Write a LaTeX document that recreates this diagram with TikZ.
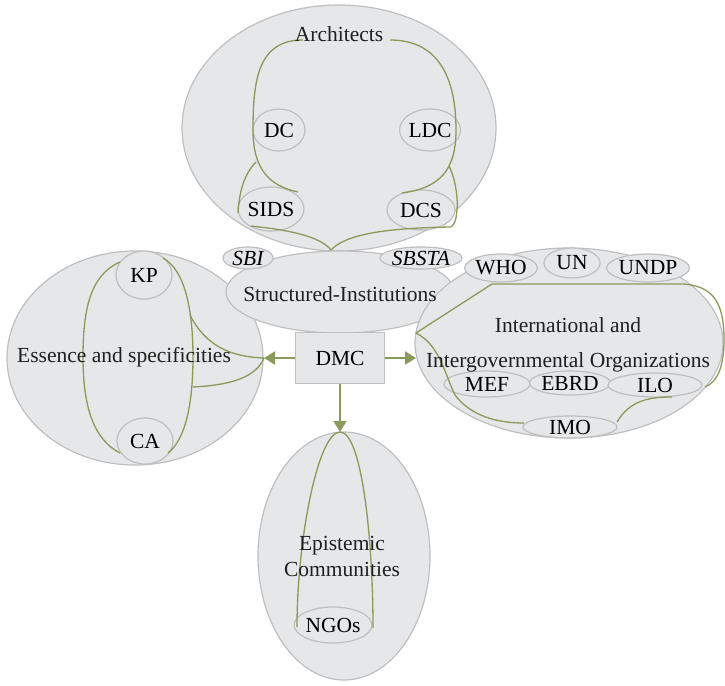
\documentclass[tikz,border=0pt]{standalone}
\usepackage{fontspec}
\setmainfont{Liberation Serif}
\usetikzlibrary{shapes.geometric,arrows.meta}
\definecolor{blobfill}{HTML}{E6E7E9}
\definecolor{blobline}{HTML}{BFBFBF}
\definecolor{olive}{HTML}{8A9A5B}
\begin{document}
\begin{tikzpicture}[x=1pt,y=-1pt,
  blob/.style={ellipse,draw=blobline,fill=blobfill,line width=1.2pt,inner sep=0pt},
  tag/.style={ellipse,draw=blobline,fill=blobfill,line width=1.2pt,inner sep=0pt,
              font=\fontsize{21.5}{26}\selectfont},
  txt/.style={font=\fontsize{21.5}{26}\selectfont,text=black!88,inner sep=0pt,align=center},
  link/.style={draw=olive,line width=1.3pt},
  flow/.style={draw=olive,line width=2pt,-{Triangle[length=11pt,width=13pt]}}]
\useasboundingbox (0,0) rectangle (725,685);

% large groups
\node[blob,minimum width=314pt,minimum height=246pt] (arch) at (339,128) {};
\node[blob,minimum width=256pt,minimum height=214pt] (ess) at (135,358) {};
\node[blob,minimum width=228pt,minimum height=82pt] (inst) at (340,292) {};
\node[blob,minimum width=308pt,minimum height=190pt] (intl) at (569,343) {};
\node[blob,minimum width=172pt,minimum height=248pt] (epi) at (344,556) {};

% members
\node[tag,minimum width=50pt,minimum height=22pt] (sbi) at (248,258) {\itshape SBI};
\node[tag,minimum width=78pt,minimum height=22pt] (sbsta) at (421,258) {\itshape SBSTA};
\node[tag,minimum width=52pt,minimum height=42pt] (dc) at (279,130) {DC};
\node[tag,minimum width=54pt,minimum height=42pt] (ldc) at (430,130) {LDC};
\node[tag,minimum width=66pt,minimum height=44pt] (sids) at (271,209) {SIDS};
\node[tag,minimum width=68pt,minimum height=40pt] (dcs) at (421,210) {DCS};
\node[tag,minimum width=56pt,minimum height=48pt] (kp) at (144,275) {KP};
\node[tag,minimum width=56pt,minimum height=46pt] (ca) at (145,441) {CA};
\node[tag,minimum width=72pt,minimum height=28pt] (who) at (501,268) {WHO};
\node[tag,minimum width=56pt,minimum height=30pt] (un) at (572,263) {UN};
\node[tag,minimum width=80pt,minimum height=28pt] (undp) at (648,268) {UNDP};
\node[tag,minimum width=86pt,minimum height=26pt] (mef) at (487,384) {MEF};
\node[tag,minimum width=74pt,minimum height=24pt] (ebrd) at (570,383) {EBRD};
\node[tag,minimum width=94pt,minimum height=24pt] (ilo) at (655,385) {ILO};
\node[tag,minimum width=94pt,minimum height=22pt] (imo) at (570,427) {IMO};
\node[tag,minimum width=72pt,minimum height=36pt] (ngo) at (333,625) {NGOs};

% central box
\node[draw=blobline,fill=blobfill,line width=1.2pt,minimum width=89pt,minimum height=51pt,
      font=\fontsize{21.5}{26}\selectfont] (dmc) at (340,358) {DMC};

% links inside the Architects group
\coordinate (archL) at (303,40);
\coordinate (archR) at (390,40);
\coordinate (archJ) at (331,250);
\path[link] (archL) .. controls (258,40) and (253,80) .. (253,130)
  .. controls (253,170) and (270,186) .. (298,192);
\path[link] (256,162) .. controls (243,175) and (239,195) .. (238,213);
\path[link] (251,226) .. controls (288,230) and (320,236) .. (archJ);
\path[link] (archR) .. controls (440,40) and (456,80) .. (456,130)
  .. controls (456,170) and (440,188) .. (402,193);
\path[link] (449,166) .. controls (456,180) and (458,200) .. (457,210)
  .. controls (456,220) and (455,224) .. (451,227);
\path[link] (451,227) .. controls (382,228) and (345,235) .. (archJ);

% links inside the Essence group
\coordinate (essJ) at (264,358);
\path[link] (120,262) .. controls (90,275) and (83,310) .. (83,357)
  .. controls (83,410) and (95,440) .. (120,453);
\path[link] (163,258) .. controls (185,270) and (193,310) .. (193,357)
  .. controls (193,405) and (185,440) .. (168,453);
\path[link] (190,315) .. controls (205,345) and (230,357) .. (essJ);
\path[link] (193,387) .. controls (232,385) and (256,377) .. (essJ);

% links inside the International group
\coordinate (intJ) at (416,333);
\path[link] (intJ) -- (492,284) -- (683,284)
  .. controls (715,286) and (724,305) .. (724,340)
  .. controls (724,365) and (718,382) .. (705,387);
\path[link] (intJ) .. controls (440,345) and (445,375) .. (455,395)
  .. controls (470,415) and (495,423) .. (524,423);
\path[link] (617,422) .. controls (630,400) and (650,397) .. (672,397);

% links inside the Epistemic group
\coordinate (epiJ) at (340,432);
\path[link] (epiJ) .. controls (318,432) and (297,540) .. (297,627);
\path[link] (epiJ) .. controls (362,432) and (373,540) .. (373,628);

% arrows out of DMC
\draw[flow] (dmc.west) -- (essJ);
\draw[flow] (dmc.east) -- (intJ |- dmc.east);
\draw[flow] (dmc.south) -- (epiJ);

% group titles
\node[txt] (archlbl) at (339,34) {Architects};
\node[txt] (instlbl) at (340,294) {Structured-Institutions};
\node[txt] (esslbl) at (124,357) {Essence and specificities};
\node[txt] (intllbl) at (568,345) {International and\\[9pt]Intergovernmental Organizations};
\node[txt] (epilbl) at (342,556) {Epistemic\\Communities};
\end{tikzpicture}
\end{document}
